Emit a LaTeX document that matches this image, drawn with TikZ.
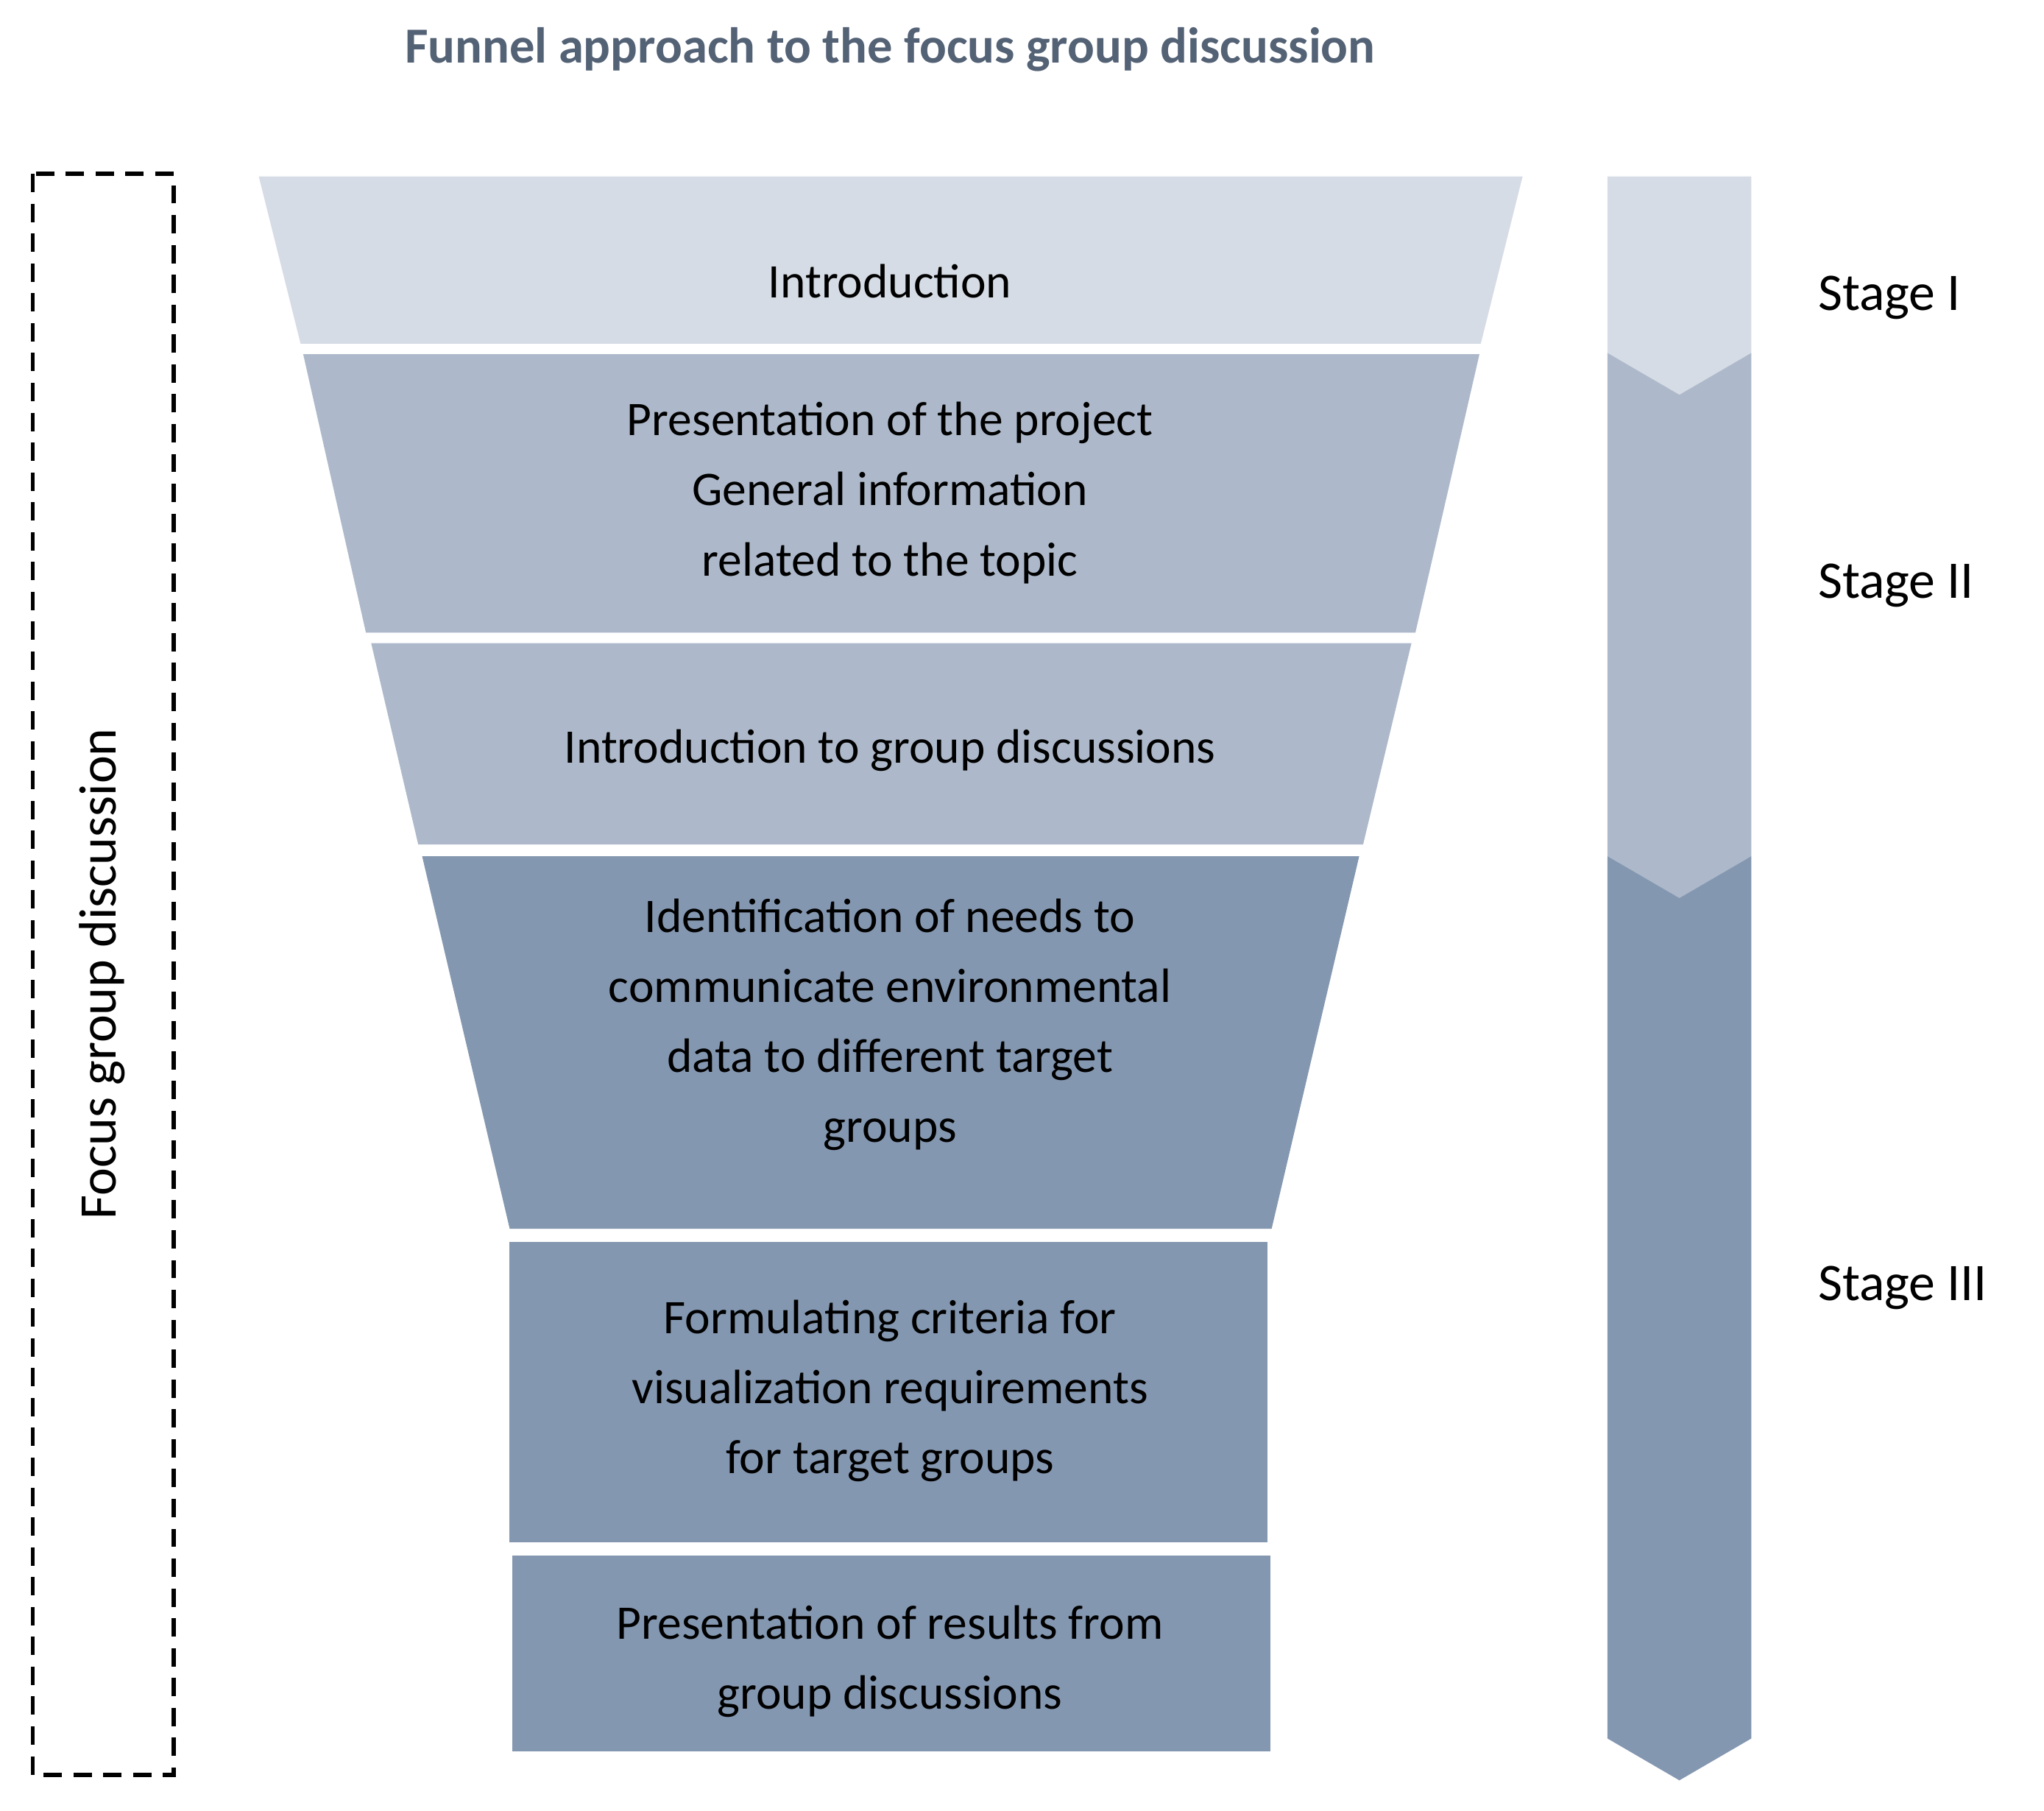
\documentclass[tikz,border=0pt]{standalone}
\usepackage{fontspec}
\setmainfont{Carlito}
\begin{document}
\begin{tikzpicture}[x=0.02cm,y=-0.02cm,
 txt/.style={align=center,font=\fontsize{21}{30.5}\selectfont,text=black},
 stg/.style={anchor=west,font=\fontsize{23}{28}\selectfont}]
\definecolor{c1}{HTML}{D6DCE5}\definecolor{c2}{HTML}{ADB9CA}\definecolor{c3}{HTML}{8497B0}
\useasboundingbox (0,0) rectangle (1564,1385);
\node[font=\bfseries\fontsize{22}{26}\selectfont,text={rgb,255:red,84;green,98;blue,118}] (title) at (681,38) {Funnel approach to the focus group discussion};
\draw[dashed,line width=1.8pt,dash pattern=on 8pt off 5pt] (25,133) rectangle (133,1358);
\node[rotate=90,font=\fontsize{23}{28}\selectfont] (fgd) at (78,745) {Focus group discussion};
\fill[c1] (198,135)--(1165,135)--(1133,263)--(230,263)--cycle;
\fill[c2] (232,271)--(1132,271)--(1083,484)--(280,484)--cycle;
\fill[c2] (284,492)--(1080,492)--(1043,646)--(320,646)--cycle;
\fill[c3] (323,655)--(1040,655)--(973,940)--(390,940)--cycle;
\fill[c3] (390,950) rectangle (970,1180);
\fill[c3] (392,1190) rectangle (972,1340);
\node[txt] (s1) at (681,215) {Introduction};
\node[txt] (s2) at (681,377) {Presentation of the project\\General information\\related to the topic};
\node[txt] (s3) at (681,574) {Introduction to group discussions};
\node[txt] (s4) at (681,784) {Identification of needs to\\communicate environmental\\data to different target\\groups};
\node[txt] (s5) at (681,1064) {Formulating criteria for\\visualization requirements\\for target groups};
\node[txt] (s6) at (681,1271) {Presentation of results from\\group discussions};
\fill[c1] (1230,135)--(1340,135)--(1340,270)--(1285,302)--(1230,270)--cycle;
\fill[c2] (1230,270)--(1285,302)--(1340,270)--(1340,655)--(1285,687)--(1230,655)--cycle;
\fill[c3] (1230,655)--(1285,687)--(1340,655)--(1340,1330)--(1285,1362)--(1230,1330)--cycle;
\node[stg] (st1) at (1385,228) {Stage I};
\node[stg] (st2) at (1385,448) {Stage II};
\node[stg] (st3) at (1385,985) {Stage III};
\end{tikzpicture}
\end{document}
